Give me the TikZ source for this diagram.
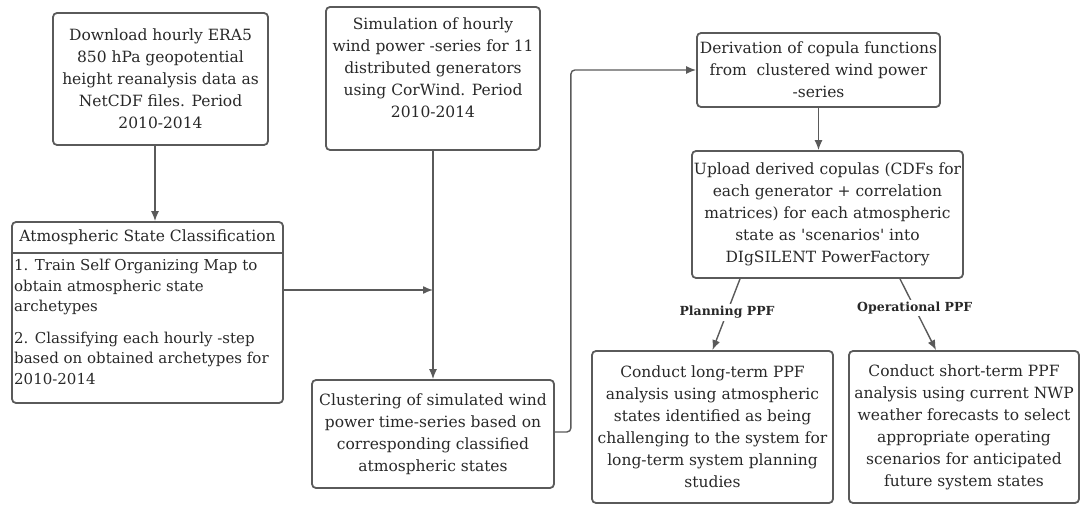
\documentclass[tikz,border=0pt]{standalone}
\usepackage{fontspec}
\setmainfont{DejaVu Serif}
\usetikzlibrary{arrows.meta}
\definecolor{linegray}{RGB}{90,90,90}
\definecolor{textgray}{RGB}{40,40,40}

\begin{document}
\begin{tikzpicture}[x=1pt, y=-1pt, box/.style={draw=linegray, rectangle, rounded corners=4, line width=1.8pt, align=center, text=textgray, inner sep=0pt, font=\fontsize{15.5}{22}\selectfont}, txt/.style={align=center, text=textgray, inner sep=0pt, font=\fontsize{15.5}{22}\selectfont}, n/.style={-{Latex[length=10pt, width=8pt]}, draw=linegray, line width=1.4pt}, lbl/.style={fill=white, text=textgray, inner sep=2pt, font=\bfseries\fontsize{12.5}{14}\selectfont}]
                \useasboundingbox (0,0) rectangle (1082,505);
                % nodes
                \node[box, minimum width=215, minimum height=132] (dl) at (160.5,79) {Download hourly ERA5\\850 hPa geopotential\\height reanalysis data as\\NetCDF files. Period\\2010-2014};
                \node[box, minimum width=214, minimum height=143] (sim) at (433,78.5) {};
                \node[txt, anchor=north] (simtext) at (433,18) {Simulation of hourly\\wind power -series for 11\\distributed generators\\using CorWind. Period\\2010-2014};
                \node[box, minimum width=271, minimum height=181] (atm) at (147.5,312.5) {};
                \node[txt] (atmhead) at (147.5,237) {Atmospheric State Classification};
                \coordinate (split) at (0,253);
                \node[txt, align=left, anchor=north west, font=\fontsize{15}{20.5}\selectfont] (atmbody) at (14,259) {1. Train Self Organizing Map to\\obtain atmospheric state\\archetypes\\[11pt]2. Classifying each hourly -step\\based on obtained archetypes for\\2010-2014};
                \node[box, minimum width=242, minimum height=108] (clust) at (433,434) {Clustering of simulated wind\\power time-series based on\\corresponding classified\\atmospheric states};
                \node[box, minimum width=243, minimum height=74] (deriv) at (818.5,70) {Derivation of copula functions\\from\ \ clustered wind power\\-series};
                \node[box, minimum width=271, minimum height=127] (upload) at (827.5,214.5) {Upload derived copulas (CDFs for\\each generator + correlation\\matrices) for each atmospheric\\state as \textquotesingle scenarios\textquotesingle{} into\\DIgSILENT PowerFactory};
                \node[box, minimum width=241, minimum height=152] (plan) at (712.5,427) {Conduct long-term PPF\\analysis using atmospheric\\states identified as being\\challenging to the system for\\long-term system planning\\studies};
                \node[box, minimum width=230, minimum height=152] (oper) at (964,427) {Conduct short-term PPF\\analysis using current NWP\\weather forecasts to select\\appropriate operating\\scenarios for anticipated\\future system states};
                % edges
                \draw [draw=linegray, line width=1.8pt] (atm.west |- split) -- (atm.east |- split);
                \draw [n] ([xshift=-5.5pt]dl.south) -- ([xshift=-5.5pt]dl.south |- atm.north);
                \draw [n] (sim.south) -- (clust.north);
                \draw [n] ([yshift=22.5pt]atm.east) -- ([yshift=22.5pt]atm.east -| sim.south);
                \draw [n, rounded corners=4pt] ([yshift=2pt]clust.east) -- ++(16,0) |- (deriv.west);
                \draw [n] (deriv.south) -- (deriv.south |- upload.north);
                \draw [n] ([xshift=-87.5pt]upload.south) -- node[lbl, pos=0.47] (planlbl) {Planning PPF} (plan.north);
                \draw [n] ([xshift=72.5pt]upload.south) -- node[lbl, pos=0.41] (operlbl) {Operational PPF} ([xshift=-28pt]oper.north);
            \end{tikzpicture}
\end{document}
